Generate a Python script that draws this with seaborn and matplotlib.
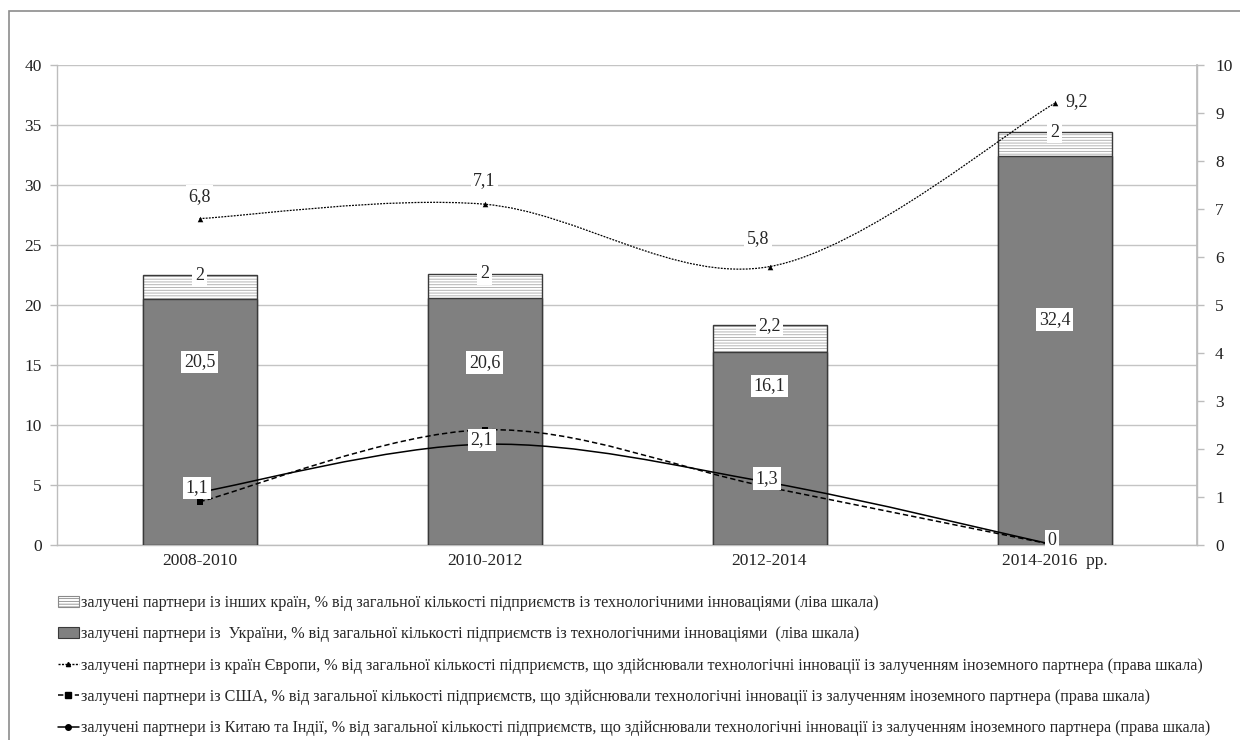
import numpy as np
import matplotlib
matplotlib.use("Agg")
import matplotlib.pyplot as plt
from matplotlib.path import Path
from matplotlib.patches import PathPatch, Patch, Rectangle
from matplotlib.lines import Line2D
import seaborn as sns

# ---- data ----
periods = ["2008-2010", "2010-2012", "2012-2014", "2014-2016  рр."]
ukraine = [20.5, 20.6, 16.1, 32.4]          # left scale
other_countries = [2.0, 2.0, 2.2, 2.0]      # left scale
europe = [6.8, 7.1, 5.8, 9.2]               # right scale
usa = [0.9, 2.4, 1.2, 0.0]                  # right scale
china_india = [1.1, 2.1, 1.3, 0.0]          # right scale

legend_labels = [
    "залучені партнери із інших країн, % від загальної кількості підприємств із технологічними інноваціями (ліва шкала)",
    "залучені партнери із  України, % від загальної кількості підприємств із технологічними інноваціями  (ліва шкала)",
    "залучені партнери із країн Європи, % від загальної кількості підприємств, що здійснювали технологічні інновації із залученням іноземного партнера (права шкала)",
    "залучені партнери із США, % від загальної кількості підприємств, що здійснювали технологічні інновації із залученням іноземного партнера (права шкала)",
    "залучені партнери із Китаю та Індії, % від загальної кількості підприємств, що здійснювали технологічні інновації із залученням іноземного партнера (права шкала)",
]

# label heights inside the Ukraine segments (left scale)
ua_label_pos = [15.25, 15.2, 13.25, 18.8]


def fmt(v):
    s = f"{v:.1f}".rstrip("0").rstrip(".")
    return s.replace(".", ",")


def smooth_path(xs, ys):
    """Catmull-Rom style cubic Bezier path through the points."""
    pts = np.column_stack([xs, ys]).astype(float)
    n = len(pts)
    verts = [pts[0]]
    codes = [Path.MOVETO]
    for i in range(n - 1):
        p0 = pts[i - 1] if i > 0 else pts[i]
        p1 = pts[i]
        p2 = pts[i + 1]
        p3 = pts[i + 2] if i + 2 < n else pts[i + 1]
        c1 = p1 + (p2 - p0) / 6.0
        c2 = p2 - (p3 - p1) / 6.0
        verts += [c1, c2, p2]
        codes += [Path.CURVE4] * 3
    return Path(verts, codes)


sns.set_theme(style="white")
plt.rcParams["font.family"] = ["Liberation Serif", "DejaVu Serif"]
plt.rcParams["hatch.linewidth"] = 0.6

fig = plt.figure(figsize=(12.4, 7.4), dpi=100)
ax = fig.add_axes([57 / 1240, 1 - 545 / 740, (1197 - 57) / 1240, (545 - 65) / 740])

grid_c = "#c4c4c4"
axis_c = "#bdbdbd"
tick_fs = 12.5
value_fs = 13

x = np.arange(len(periods))
totals = [u + o for u, o in zip(ukraine, other_countries)]

# stacked bars: hatched total underneath, Ukraine segment on top of it
sns.barplot(x=periods, y=totals, color="white", saturation=1, width=0.4,
            hatch="------", edgecolor="#a8a8a8", linewidth=0, ax=ax, zorder=2)
sns.barplot(x=periods, y=totals, color="white", saturation=1, width=0.4,
            fill=False, edgecolor="#3a3a3a", linewidth=1.0, ax=ax, zorder=3)
sns.barplot(x=periods, y=ukraine, color="#808080", saturation=1, width=0.4,
            edgecolor="#3a3a3a", linewidth=1.0, ax=ax, zorder=4)

ax.set_xlim(-0.5, len(periods) - 0.5)
ax.set_ylim(0, 40)
ax.set_yticks(np.arange(0, 41, 5))
ax.yaxis.grid(True, color=grid_c, linewidth=1.0)
ax.set_axisbelow(True)
ax.set_xlabel("")
ax.set_ylabel("")

ax.spines["top"].set_visible(False)
for s in ["left", "bottom", "right"]:
    ax.spines[s].set_color(axis_c)
    ax.spines[s].set_linewidth(1.0)

ax.set_xticks(x)
ax.set_xticklabels(periods)
ax.set_xticks(np.arange(0.5, len(periods) - 0.5, 1), minor=True)
ax.tick_params(axis="x", which="major", length=0, pad=6, labelsize=tick_fs, colors="#222222")
ax.tick_params(axis="x", which="minor", length=5, width=1, color=axis_c, direction="out")
ax.tick_params(axis="y", length=5, width=1, color=axis_c, direction="out",
               labelsize=tick_fs, labelcolor="#222222", pad=6)

box = dict(boxstyle="square,pad=0.15", facecolor="white", edgecolor="none")

for xi, t, o in zip(x, totals, other_countries):
    ax.text(xi, t, fmt(o), ha="center", va="center", fontsize=value_fs, zorder=6, bbox=box)
for xi, yp, u in zip(x, ua_label_pos, ukraine):
    ax.text(xi, yp, fmt(u), ha="center", va="center", fontsize=value_fs, zorder=6, bbox=box)

# ---- right scale lines ----
ax2 = ax.twinx()
ax2.set_ylim(0, 10)
ax2.set_yticks(np.arange(0, 11, 1))
for s in ["top", "left", "bottom"]:
    ax2.spines[s].set_visible(False)
ax2.spines["right"].set_color(axis_c)
ax2.tick_params(axis="y", length=5, width=1, color=axis_c, direction="out",
                labelsize=tick_fs, labelcolor="#222222", pad=8)
ax2.grid(False)

line_styles = [
    (europe, (0, (1.5, 1.0)), 0.9, "^", 4),
    (usa, (0, (3.5, 2.0)), 1.1, "s", 4),
    (china_india, "solid", 1.1, "o", 4.5),
]
for vals, ls, lw, mk, ms in line_styles:
    ax2.add_patch(PathPatch(smooth_path(x, vals), facecolor="none", edgecolor="black",
                            linewidth=lw, linestyle=ls, zorder=3))
    sns.scatterplot(x=x, y=vals, marker=mk, s=ms ** 2, color="black",
                    edgecolor="black", linewidth=0, ax=ax2, zorder=4, legend=False)
ax2.set_xlim(-0.5, len(periods) - 0.5)

eu_offsets = [(0, 16), (0, 17), (-8, 20), (16, 1)]
for xi, v, off in zip(x, europe, eu_offsets):
    ax2.annotate(fmt(v), (xi, v), xytext=off, textcoords="offset points",
                 ha="center", va="center", fontsize=value_fs, zorder=6, bbox=box)
for xi, v in zip(x, china_india):
    ax2.annotate(fmt(v), (xi, v), xytext=(-2, 3), textcoords="offset points",
                 ha="center", va="center", fontsize=value_fs, zorder=6, bbox=box)

# ---- legend ----
handles = [
    Patch(facecolor="white", edgecolor="#8a8a8a", hatch="------", linewidth=0.8),
    Patch(facecolor="#808080", edgecolor="#3a3a3a", linewidth=0.8),
    Line2D([], [], color="black", linestyle=(0, (1.5, 1.0)), linewidth=1.0, marker="^", markersize=3),
    Line2D([], [], color="black", linestyle=(0, (3.5, 2.0)), linewidth=1.1, marker="s", markersize=4),
    Line2D([], [], color="black", linestyle="solid", linewidth=1.1, marker="o", markersize=4),
]
fig.legend(handles, legend_labels, loc="upper left",
           bbox_to_anchor=(58 / 1240, 1 - 595 / 740), frameon=False,
           fontsize=11.6, labelspacing=0.95, handlelength=1.3, handleheight=0.7,
           handletextpad=0.15, borderaxespad=0, borderpad=0)

# outer frame of the chart area
fig.add_artist(Rectangle((9 / 1240, -0.1), 1.2, 1 - 11 / 740 + 0.1,
                         transform=fig.transFigure, fill=False,
                         edgecolor="#8c8c8c", linewidth=1.2))

fig.savefig("out.png", dpi=100, facecolor="white")
